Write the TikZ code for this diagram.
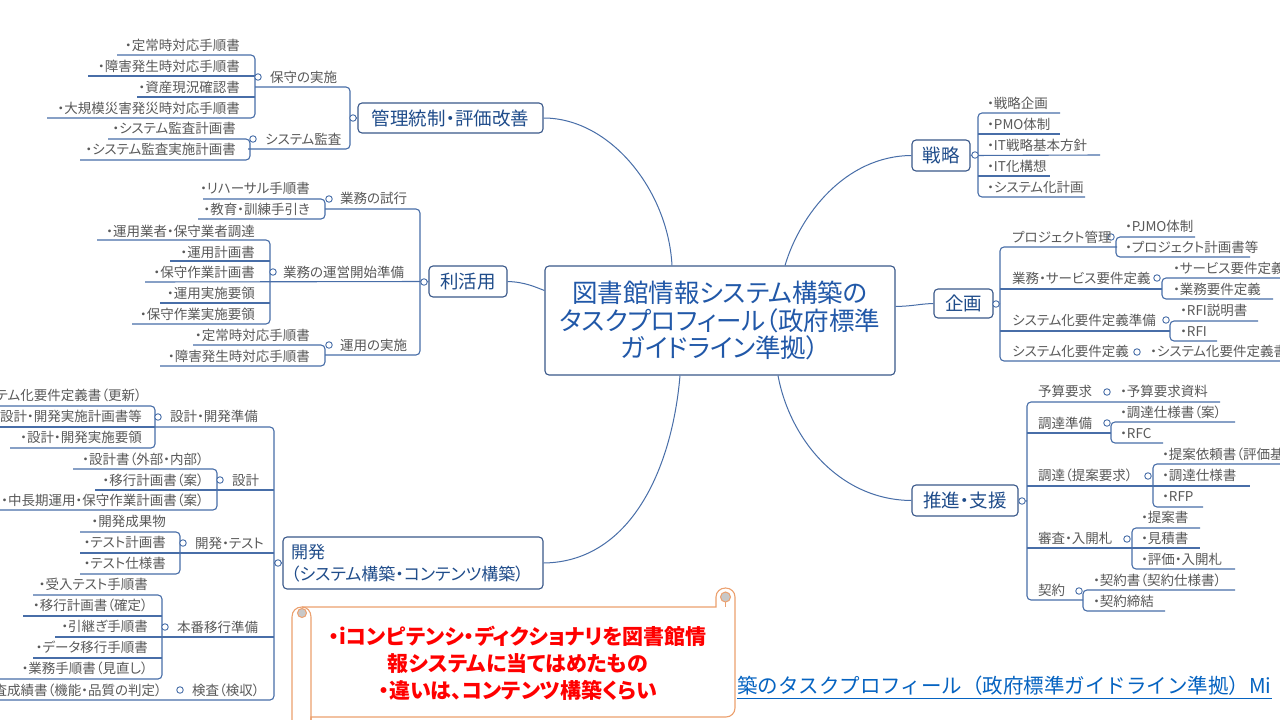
\documentclass[tikz,border=0pt]{standalone}
\usepackage{fontspec}
\setmainfont{Noto Sans CJK JP}[RawFeature=+palt]
\newfontfamily\mmfull{Noto Sans CJK JP}
\usetikzlibrary{calc}
\definecolor{lnblue}{RGB}{72,110,168}
\definecolor{boxblue}{RGB}{58,88,138}
\definecolor{topicblue}{RGB}{31,76,138}
\definecolor{centerblue}{RGB}{33,88,168}
\definecolor{txtgray}{RGB}{89,89,89}
\definecolor{scrollor}{RGB}{236,160,110}
\definecolor{curlgray}{RGB}{200,200,200}
\definecolor{linkblue}{RGB}{5,99,193}
\newcommand\mmleaf{\fontsize{13.5}{16}\selectfont}
\newcommand\mmtopic{\fontsize{18.5}{22}\selectfont}
\newcommand\mmcenter{\fontsize{25.5}{27.5}\selectfont}
\newcommand\mmdev{\fontsize{17}{22}\selectfont}
\newcommand\mmcall{\fontsize{21}{27}\selectfont\bfseries}
\newcommand\mmlink{\mmfull\fontsize{20.5}{24}\selectfont}
\begin{document}
\begin{tikzpicture}[x=1pt,y=-1pt,
 txt/.style={inner sep=0pt, font=\mmleaf, text=txtgray, text height=11.9pt, text depth=1.6pt},
 lfL/.style={txt, anchor=east},
 lfR/.style={txt, anchor=west},
 ln/.style={draw=lnblue, line width=1.1pt},
 br/.style={ln, rounded corners=4pt},
 conn/.style={draw=lnblue, line width=1pt},
 knob/.style={circle, draw=lnblue, fill=white, line width=0.9pt, inner sep=0pt, minimum size=6.5pt},
 topic/.style={draw=boxblue, fill=white, rounded corners=4pt, line width=1.1pt, text=topicblue, font=\mmtopic, inner sep=0pt}]
\useasboundingbox (0,0) rectangle (1280,720);
\fill[white] (0,0) rectangle (1280,720);
\clip (0,0) rectangle (1280,720);

% ---------- centre and main topics ----------
\node[topic, text=centerblue, font=\mmcenter, align=center, minimum width=350pt, minimum height=109pt] (c0) at (720,320.5) {図書館情報システム構築の\\タスクプロフィール（政府標準\\ガイドライン準拠）};
\node[topic, minimum width=185pt, minimum height=30pt] (k0) at (450.5,118) {管理統制・評価改善};
\node[topic, minimum width=78pt, minimum height=31pt] (r0) at (468,281.5) {利活用};
\node[topic, font=\mmdev, align=left, text width=244pt, inner xsep=8pt, minimum height=52pt] (d0) at (413,563) {開発\\（システム構築・コンテンツ構築）};
\node[topic, minimum width=58pt, minimum height=31pt] (s0) at (941,155.5) {戦略};
\node[topic, minimum width=59pt, minimum height=29pt] (p0) at (963.5,303.5) {企画};
\node[topic, minimum width=106pt, minimum height=31pt] (q0) at (965,500.5) {推進・支援};

\draw[conn] (k0.east) .. controls (610,118) and (668,190) .. ($(c0.north)+(-48,0)$);
\draw[conn] ($(c0.north)+(65,0)$) .. controls (800,215) and (845,156) .. (s0.west);
\draw[conn] ($(c0.east)+(0,-14)$) .. controls (915,306) and (918,304) .. (p0.west);
\draw[conn] ($(c0.south)+(58,0)$) .. controls (790,440) and (840,500) .. (q0.west);
\draw[conn] ($(c0.south)+(-40,0)$) .. controls (672,470) and (630,562) .. (d0.east);
\draw[conn] (r0.east) .. controls (525,282) and (535,287) .. ($(c0.west)+(0,-30)$);

% ---------- 管理統制・評価改善 ----------
\draw[br] (117,55) -- (255,55) -- (255,118) -- (47,118);
\draw[ln] (88,76) -- (255,76);
\draw[ln] (137,97) -- (255,97);
\draw[br] (255,87) -- (350,87) -- (350,149) -- (248,149);
\draw[br] (108,139) -- (250,139) -- (250,160) -- (80,160);
\draw[ln] (350,118) -- (k0.west);
\node[knob] (k0o) at (353,118) {};
\node[knob] (k1o) at (258,77) {};
\node[knob] (k2o) at (253,139) {};
\node[lfR] (k1) at (270,77) {保守の実施};
\node[lfR] (k2) at (265,139) {システム監査};
\node[lfL] (k1a) at (240,45) {・定常時対応手順書};
\node[lfL] (k1b) at (240,66) {・障害発生時対応手順書};
\node[lfL] (k1c) at (240,87) {・資産現況確認書};
\node[lfL] (k1d) at (240,108) {・大規模災害発災時対応手順書};
\node[lfL] (k2a) at (236,128) {・システム監査計画書};
\node[lfL] (k2b) at (236,149) {・システム監査実施計画書};

% ---------- 利活用 ----------
\draw[br] (325,209) -- (420,209) -- (420,355) -- (325,355);
\draw[ln] (145,282) -- (r0.west);
\draw[br] (203,199) -- (325,199) -- (325,219) -- (198,219);
\draw[br] (97,240) -- (270,240) -- (270,324) -- (132,324);
\draw[ln] (170,261) -- (270,261);
\draw[ln] (160,303) -- (270,303);
\draw[br] (193,345) -- (325,345) -- (325,366) -- (160,366);
\node[knob] (r0o) at (424,282) {};
\node[knob] (r1o) at (329,199) {};
\node[knob] (r2o) at (273,272) {};
\node[knob] (r3o) at (329,345) {};
\node[lfR] (r1) at (340,198) {業務の試行};
\node[lfR] (r2) at (283,272) {業務の運営開始準備};
\node[lfR] (r3) at (340,345) {運用の実施};
\node[lfL] (r1a) at (310,188) {・リハーサル手順書};
\node[lfL] (r1b) at (310,209) {・教育・訓練手引き};
\node[lfL] (r2a) at (255,231) {・運用業者・保守業者調達};
\node[lfL] (r2b) at (255,252) {・運用計画書};
\node[lfL] (r2c) at (255,272) {・保守作業計画書};
\node[lfL] (r2d) at (255,293) {・運用実施要領};
\node[lfL] (r2e) at (255,314) {・保守作業実施要領};
\node[lfL] (r3a) at (310,335) {・定常時対応手順書};
\node[lfL] (r3b) at (310,356) {・障害発生時対応手順書};

% ---------- 開発 ----------
\draw[br] (155,427) -- (274,427) -- (274,700) -- (0,700);
\draw[ln] (0,427) -- (155,427);
\draw[ln] (95,490) -- (274,490);
\draw[ln] (80,553) -- (274,553);
\draw[ln] (55,637) -- (274,637);
\draw[ln] (274,563) -- (d0.west);
\draw[br] (0,406) -- (155,406) -- (155,448) -- (10,448);
\draw[br] (73,469) -- (217,469) -- (217,510) -- (0,510);
\draw[br] (80,532) -- (180,532) -- (180,574) -- (80,574);
\draw[br] (33,595) -- (162,595) -- (162,679) -- (0,679);
\draw[ln] (23,616) -- (162,616);
\draw[ln] (33,658) -- (162,658);
\node[knob] (d0o) at (278,563) {};
\node[knob] (d1o) at (158,417) {};
\node[knob] (d2o) at (220,480) {};
\node[knob] (d3o) at (183,543) {};
\node[knob] (d4o) at (165,627) {};
\node[knob] (d5o) at (180,690) {};
\node[lfR] (d1) at (170,416) {設計・開発準備};
\node[lfR] (d2) at (232,480) {設計};
\node[lfR] (d3) at (195,543) {開発・テスト};
\node[lfR] (d4) at (177,627) {本番移行準備};
\node[lfR] (d5) at (192,690) {検査（検収）};
\node[lfL] (d1a) at (142,395) {・システム化要件定義書（更新）};
\node[lfL] (d1b) at (142,416) {・設計・開発実施計画書等};
\node[lfL] (d1c) at (142,437) {・設計・開発実施要領};
\node[lfL] (d2a) at (204,459) {・設計書（外部・内部）};
\node[lfL] (d2b) at (204,480) {・移行計画書（案）};
\node[lfL] (d2c) at (204,500) {・中長期運用・保守作業計画書（案）};
\node[lfL] (d3a) at (166,521) {・開発成果物};
\node[lfL] (d3b) at (166,542) {・テスト計画書};
\node[lfL] (d3c) at (166,563) {・テスト仕様書};
\node[lfL] (d4a) at (148,584) {・受入テスト手順書};
\node[lfL] (d4b) at (148,605) {・移行計画書（確定）};
\node[lfL] (d4c) at (148,626) {・引継ぎ手順書};
\node[lfL] (d4d) at (148,647) {・データ移行手順書};
\node[lfL] (d4e) at (148,668) {・業務手順書（見直し）};
\node[lfL] (d5a) at (162,690) {・検査成績書（機能・品質の判定）};

% ---------- 戦略 ----------
\draw[br] (1060,113) -- (978,113) -- (978,197) -- (1085,197);
\draw[ln] (978,134) -- (1060,134);
\draw[ln] (s0.east) -- (1100,155);
\draw[ln] (978,176) -- (1050,176);
\node[knob] (s0o) at (975,155) {};
\node[lfR] (s1) at (987,103) {・戦略企画};
\node[lfR] (s2) at (987,124) {・PMO体制};
\node[lfR] (s3) at (987,145) {・IT戦略基本方針};
\node[lfR] (s4) at (987,166) {・IT化構想};
\node[lfR] (s5) at (987,187) {・システム化計画};

% ---------- 企画 ----------
\draw[br] (1117,247) -- (1000,247) -- (1000,361) -- (1285,361);
\draw[ln] (1000,289) -- (1162,289);
\draw[ln] (1000,331) -- (1170,331);
\draw[ln] (p0.east) -- (1000,304);
\draw[br] (1195,237) -- (1116,237) -- (1116,257) -- (1250,257);
\draw[br] (1285,278) -- (1162,278) -- (1162,299) -- (1273,299);
\draw[br] (1258,321) -- (1170,321) -- (1170,341) -- (1217,341);
\node[knob] (p0o) at (996,304) {};
\node[knob] (p1o) at (1111,237) {};
\node[knob] (p2o) at (1157,278) {};
\node[knob] (p3o) at (1166,320) {};
\node[knob] (p4o) at (1137,352) {};
\node[lfR] (p1) at (1012,237) {プロジェクト管理};
\node[lfR] (p2) at (1012,278) {業務・サービス要件定義};
\node[lfR] (p3) at (1012,320) {システム化要件定義準備};
\node[lfR] (p4) at (1012,351) {システム化要件定義};
\node[lfR] (p1a) at (1125,226) {・PJMO体制};
\node[lfR] (p1b) at (1125,247) {・プロジェクト計画書等};
\node[lfR] (p2a) at (1173,268) {・サービス要件定義書};
\node[lfR] (p2b) at (1173,289) {・業務要件定義};
\node[lfR] (p3a) at (1180,310) {・RFI説明書};
\node[lfR] (p3b) at (1180,331) {・RFI};
\node[lfR] (p4a) at (1150,351) {・システム化要件定義書};

% ---------- 推進・支援 ----------
\draw[br] (1220,402) -- (1027,402) -- (1027,600) -- (1083,600);
\draw[ln] (1027,433) -- (1111,433);
\draw[ln] (1027,486) -- (1250,486);
\draw[ln] (1027,548) -- (1200,548);
\draw[ln] (q0.east) -- (1027,501);
\draw[br] (1235,422) -- (1111,422) -- (1111,443) -- (1163,443);
\draw[br] (1285,464) -- (1153,464) -- (1153,507) -- (1203,507);
\draw[br] (1200,528) -- (1132,528) -- (1132,569) -- (1235,569);
\draw[br] (1235,590) -- (1083,590) -- (1083,611) -- (1165,611);
\node[knob] (q0o) at (1022,501) {};
\node[knob] (q1o) at (1107,392) {};
\node[knob] (q2o) at (1107,423) {};
\node[knob] (q3o) at (1148,476) {};
\node[knob] (q4o) at (1127,539) {};
\node[knob] (q5o) at (1079,591) {};
\node[lfR] (q1) at (1038,391) {予算要求};
\node[lfR] (q2) at (1038,423) {調達準備};
\node[lfR] (q3) at (1038,475) {調達（提案要求）};
\node[lfR] (q4) at (1038,538) {審査・入開札};
\node[lfR] (q5) at (1038,590) {契約};
\node[lfR] (q1a) at (1120,391) {・予算要求資料};
\node[lfR] (q2a) at (1120,412) {・調達仕様書（案）};
\node[lfR] (q2b) at (1120,433) {・RFC};
\node[lfR] (q3a) at (1162,454) {・提案依頼書（評価基準）};
\node[lfR] (q3b) at (1162,475) {・調達仕様書};
\node[lfR] (q3c) at (1162,496) {・RFP};
\node[lfR] (q4a) at (1141,517) {・提案書};
\node[lfR] (q4b) at (1141,538) {・見積書};
\node[lfR] (q4c) at (1141,559) {・評価・入開札};
\node[lfR] (q5a) at (1093,580) {・契約書（契約仕様書）};
\node[lfR] (q5b) at (1093,601) {・契約締結};

% ---------- link text ----------
\node[font=\mmlink, text=linkblue, anchor=west, inner sep=0pt, text height=18pt, text depth=2.5pt] (lk) at (737,686) {築のタスクプロフィール（政府標準ガイドライン準拠）Mi};
\draw[linkblue, line width=1.1pt] ($(lk.south west)+(0,2)$) -- ($(lk.south east)+(0,2)$);

% ---------- scroll callout ----------
\draw[scrollor, line width=1.1pt, fill=white] (292,730) -- (292,617) .. controls (292,611) and (296,607) .. (302,607) -- (716,607) -- (716,597) .. controls (716,592) and (720,588) .. (725.5,588) .. controls (731,588) and (735,592) .. (735,597) -- (735,708) .. controls (735,713) and (731,717) .. (726,717) -- (311,717) -- (311,730);
\draw[scrollor, line width=1.1pt] (311,730) -- (311,617) .. controls (311,611) and (307,607) .. (302,607);
\filldraw[scrollor, fill=curlgray, line width=1pt] (302,613) circle (4.5);
\filldraw[scrollor, fill=curlgray, line width=1pt] (725.5,597) circle (5);
\draw[scrollor, line width=1.1pt] (725.5,602) -- (725.5,607);
\node[font=\mmcall, text=red, align=center, inner sep=0pt] (callout) at (518,663) {・iコンピテンシ・ディクショナリを図書館情\\報システムに当てはめたもの\\・違いは、コンテンツ構築くらい};
\end{tikzpicture}
\end{document}
